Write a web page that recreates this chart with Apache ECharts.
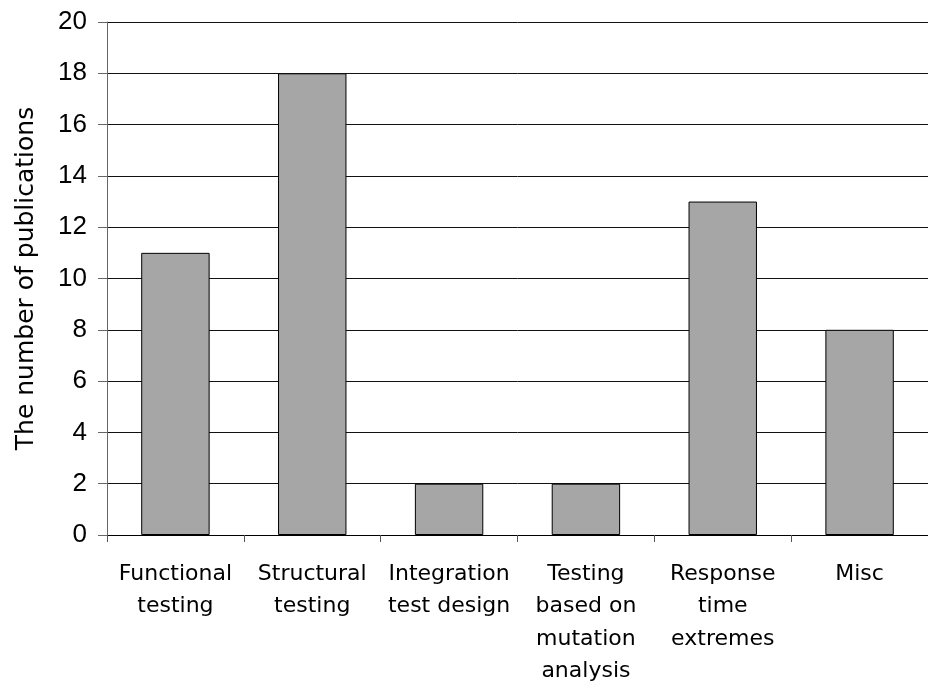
<!DOCTYPE html>
<html>
<head>
<meta charset="utf-8">
<script src="https://cdn.jsdelivr.net/npm/echarts@6/dist/echarts.min.js"></script>
<style>
  html, body { margin: 0; padding: 0; background: #fff; }
  #chart { width: 928px; height: 684px; }
</style>
</head>
<body>
<div id="chart"></div>
<script>
// publications per topic
const categories = [
  'Functional\ntesting',
  'Structural\ntesting',
  'Integration\ntest design',
  'Testing\nbased on\nmutation\nanalysis',
  'Response\ntime\nextremes',
  'Misc'
]
const publications = [11, 18, 2, 2, 13, 8]

const chart = echarts.init(document.getElementById('chart'))
chart.setOption({
  animation: false,
  grid: {
    left: 107,
    right: 0,
    top: 22,
    bottom: 149,
    containLabel: false,
    outerBoundsMode: 'none'
  },
  xAxis: {
    type: 'category',
    data: categories,
    axisLine: { lineStyle: { color: '#000', width: 1 } },
    axisTick: { show: true, length: 7, alignWithLabel: false, lineStyle: { color: '#555' } },
    axisLabel: {
      interval: 0,
      margin: 23,
      color: '#000',
      fontFamily: 'DejaVu Sans',
      fontSize: 22,
      lineHeight: 32.5
    }
  },
  yAxis: {
    type: 'value',
    min: 0,
    max: 20,
    interval: 2,
    name: 'The number of publications',
    nameLocation: 'middle',
    nameRotate: 90,
    nameGap: 68,
    nameTextStyle: {
      color: '#000',
      fontFamily: 'DejaVu Sans',
      fontSize: 25
    },
    axisLine: { show: true, lineStyle: { color: '#666', width: 1 } },
    axisTick: { show: true, length: 9, lineStyle: { color: '#666' } },
    axisLabel: {
      margin: 20,
      color: '#000',
      fontFamily: 'Liberation Sans',
      fontSize: 26
    },
    splitLine: { show: true, lineStyle: { color: '#111', width: 1 } }
  },
  series: [{
    type: 'bar',
    data: publications,
    barWidth: '50%',
    itemStyle: {
      color: '#a6a6a6',
      borderColor: '#000',
      borderWidth: 1
    }
  }]
})
</script>
</body>
</html>
